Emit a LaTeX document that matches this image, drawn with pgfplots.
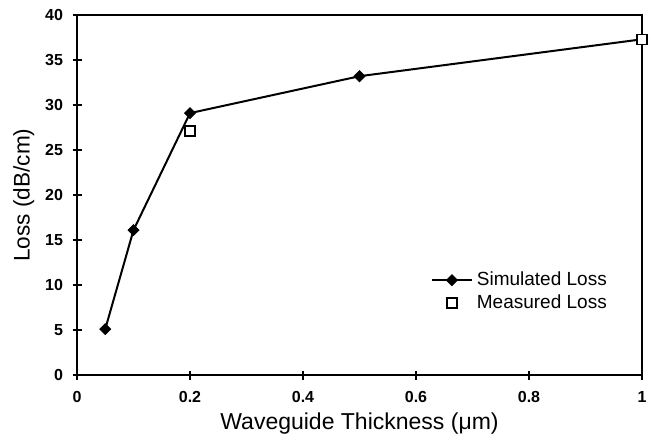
\documentclass[border=0pt]{standalone}
\usepackage{fontspec}
\setmainfont{Liberation Sans}
\usepackage{pgfplots}
\pgfplotsset{compat=1.18}
\pgfplotsset{
  simleg/.style={legend image code/.code={\draw[mark repeat=2, mark phase=2, ##1] plot coordinates {(0pt,0pt) (10pt,0pt) (20pt,0pt)};}},
  measleg/.style={legend image code/.code={\draw[##1] plot coordinates {(10pt,0pt)};}},
}

\begin{document}
\begin{tikzpicture}
\useasboundingbox (-38.5pt,-33pt) rectangle (287pt,187.5pt);
\begin{axis}[at={(0,0)}, anchor=south west, scale only axis,
  width=282.5pt, height=180pt,
  xmin=0, xmax=1, ymin=0, ymax=40,
  xtick={0,0.2,0.4,0.6,0.8,1}, xticklabels={0,0.2,0.4,0.6,0.8,1},
  ytick={0,5,10,15,20,25,30,35,40},
  tick align=center, xtick pos=bottom, ytick pos=left,
  major tick length=4.5pt,
  axis line style={line width=0.8pt},
  tick style={line width=0.7pt, black},
  /pgf/number format/assume math mode=true,
  ticklabel style={font=\fontsize{8}{9}\selectfont\bfseries},
  xticklabel style={anchor=center, yshift=-8.5pt},
  yticklabel style={anchor=east, xshift=-1.2pt},
  xlabel={Waveguide Thickness (μm)},
  ylabel={Loss (dB/cm)},
  xlabel style={font=\fontsize{11.5}{13}\selectfont, at={(axis description cs:0.5,-0.136)}, anchor=center},
  ylabel style={font=\fontsize{11.3}{13}\selectfont, at={(axis description cs:-0.094,0.5)}, anchor=center},
  legend style={at={(0.615,0.31)}, anchor=north west, draw=none, fill=none,
    font=\fontsize{9.5}{11}\selectfont, row sep=-1pt},
  legend cell align=left,
]
\addplot[black, line width=1pt, mark=square*, mark size=1.95pt,
  mark options={solid, rotate=45, line width=0.4pt}, simleg]
  coordinates {(0.05,5.1) (0.1,16.1) (0.2,29.1) (0.5,33.2) (1,37.3)};
\addlegendentry{Simulated Loss}
\addplot[black, only marks, mark=square*, mark size=2.5pt,
  mark options={fill=white, line width=0.8pt}, measleg]
  coordinates {(0.2,27.1) (1,37.3)};
\addlegendentry{Measured Loss}
\end{axis}
\end{tikzpicture}
\end{document}
